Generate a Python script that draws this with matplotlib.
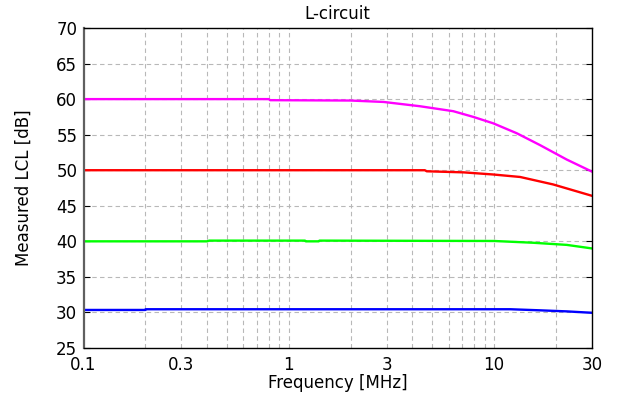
import matplotlib
matplotlib.use("Agg")
import matplotlib.pyplot as plt
from matplotlib.ticker import FixedLocator, FixedFormatter, NullFormatter

plt.rcParams["font.family"] = ["DejaVu Sans"]

# measured LCL curves (frequency in MHz, LCL in dB)
freq_mag = [0.1, 0.8, 0.81, 2.0, 2.9, 4.35, 6.33, 7.92, 9.9, 12.9, 16.7, 22.6, 30]
lcl_mag = [60.0, 60.0, 59.85, 59.8, 59.6, 59.0, 58.3, 57.5, 56.6, 55.2, 53.55, 51.5, 49.8]

freq_red = [0.1, 4.6, 4.7, 7.1, 9.9, 13.4, 19.4, 30]
lcl_red = [50.0, 50.0, 49.85, 49.7, 49.4, 49.05, 48.0, 46.4]

freq_grn = [0.1, 0.4, 0.41, 1.2, 1.21, 1.4, 1.41, 10, 15.5, 22.6, 30]
lcl_grn = [40.0, 40.0, 40.1, 40.1, 40.0, 40.0, 40.1, 40.05, 39.8, 39.5, 39.0]

freq_blu = [0.1, 0.2, 0.201, 12, 16.7, 22.6, 30]
lcl_blu = [30.35, 30.35, 30.45, 30.45, 30.3, 30.15, 29.95]

series = [
    (freq_mag, lcl_mag, "#ff00ff"),
    (freq_red, lcl_red, "#ff0000"),
    (freq_grn, lcl_grn, "#00ff00"),
    (freq_blu, lcl_blu, "#0000ff"),
]

xticks = [0.1, 0.3, 1, 3, 10, 30]
xtick_labels = ["0.1", "0.3", "1", "3", "10", "30"]
xgrid = [0.2, 0.3, 0.4, 0.5, 0.6, 0.7, 0.8, 0.9, 1, 2, 3, 4, 5, 6, 7, 8, 9, 10, 20]
yticks = [25, 30, 35, 40, 45, 50, 55, 60, 65, 70]

fig = plt.figure(figsize=(6.18, 3.98), dpi=100)
ax = fig.add_axes([83.5 / 618, 1 - 348 / 398, (592 - 83.5) / 618, (348 - 28) / 398])

for f, v, c in series:
    ax.plot(f, v, color=c, linewidth=1.7)

ax.set_xscale("log")
ax.set_xlim(0.1, 30)
ax.set_ylim(25, 70)
ax.xaxis.set_major_locator(FixedLocator(xticks))
ax.xaxis.set_major_formatter(FixedFormatter(xtick_labels))
ax.xaxis.set_minor_locator(FixedLocator(xgrid))
ax.xaxis.set_minor_formatter(NullFormatter())
ax.set_yticks(yticks)

for x in xgrid:
    ax.axvline(x, color="#b8b8b8", linestyle=(0, (4, 3)), linewidth=0.8, zorder=0)
for y in yticks[1:-1]:
    ax.axhline(y, color="#b8b8b8", linestyle=(0, (4, 3)), linewidth=0.8, zorder=0)

ax.tick_params(axis="y", which="both", direction="in", left=True, right=True,
               length=4, width=0.8, labelsize=12, pad=4.5)
ax.tick_params(axis="x", which="both", direction="in", top=False, length=0,
               labelsize=12, pad=5.5)

for side in ["top", "right", "bottom"]:
    ax.spines[side].set_color("black")
    ax.spines[side].set_linewidth(1.0)
ax.spines["left"].set_color("#606060")
ax.spines["left"].set_linewidth(1.6)

ax.set_title("L-circuit", fontsize=12, pad=6.5)
ax.set_xlabel("Frequency [MHz]", fontsize=12, labelpad=0.5)
ax.set_ylabel("Measured LCL [dB]", fontsize=12)
ax.yaxis.set_label_coords(-0.1, 0.5)

fig.savefig("out.png", dpi=100)
